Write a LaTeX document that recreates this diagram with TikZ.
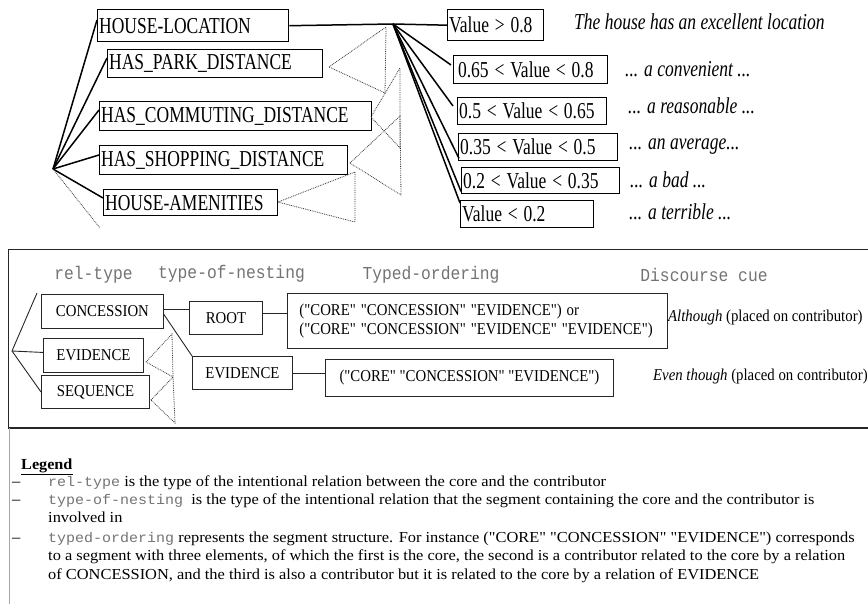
\documentclass[tikz,border=0pt]{standalone}
\usepackage{fontspec}
\setmainfont{Liberation Serif}[Ligatures=TeXOff]
\setmonofont{Liberation Mono}
\usepackage{graphicx}
\usetikzlibrary{calc}

% stretch a piece of text vertically
\newcommand\tall[2]{\scalebox{1}[#1]{#2}}
% grey typewriter names inside running text
\newcommand\code[1]{{\ttfamily\fontsize{15}{18}\selectfont\color{black!55}#1}}

\tikzset{
  bigtxt/.style={font=\fontsize{17.5}{19}\selectfont},
  midtxt/.style={font=\fontsize{14.8}{17}\selectfont},
  codetxt/.style={font=\ttfamily\fontsize{16.3}{18}\selectfont, text=black!55},
  legtxt/.style={font=\fontsize{16.4}{18}\selectfont},
  catbox/.style={draw, line width=1.4pt, anchor=north west, inner xsep=1.5pt,
                 inner ysep=0pt, align=left, bigtxt},
  relbox/.style={draw=black!85, line width=0.9pt, anchor=north west, inner sep=0pt,
                 align=center, midtxt},
  link/.style={line width=1.5pt},
  thin link/.style={line width=0.9pt, black!85},
  tri/.style={densely dotted, line width=0.8pt, black!80},
  cue/.style={anchor=west, inner sep=0pt},
  legline/.style={anchor=base west, inner sep=0pt, legtxt},
}

\begin{document}
\begin{tikzpicture}[x=1pt, y=-1pt]
\useasboundingbox (0,0) rectangle (868,604);
\clip (0,0) rectangle (868,604);

% ---------- house-location tree ----------
\node[catbox, text width=188pt, minimum height=32pt] (hl) at (97,9)  {\tall{1.3}{HOUSE-LOCATION}};
\node[catbox, text width=212pt, minimum height=28pt] (hp) at (107,49) {\tall{1.3}{HAS\_PARK\_DISTANCE}};
\node[catbox, text width=269pt, minimum height=29pt] (hc) at (99,101) {\tall{1.3}{HAS\_COMMUTING\_DISTANCE}};
\node[catbox, text width=245pt, minimum height=29pt] (hs) at (99,145) {\tall{1.3}{HAS\_SHOPPING\_DISTANCE}};
\node[catbox, text width=171pt, minimum height=26pt] (ha) at (103,189) {\tall{1.3}{HOUSE-AMENITIES}};

\node[catbox, text width=93pt,  minimum height=31pt] (v1) at (447,9)   {\tall{1.3}{Value > 0.8}};
\node[catbox, text width=151pt, minimum height=28pt] (v2) at (453,55)  {\tall{1.3}{\,0.65 < Value < 0.8}};
\node[catbox, text width=146pt, minimum height=27pt] (v3) at (457,97)  {\tall{1.3}{0.5 < Value < 0.65}};
\node[catbox, text width=156pt, minimum height=27pt] (v4) at (458,133) {\tall{1.3}{0.35 < Value < 0.5}};
\node[catbox, text width=155pt, minimum height=26pt] (v5) at (461,167) {\tall{1.3}{0.2 < Value < 0.35}};
\node[catbox, text width=130pt, minimum height=27pt] (v6) at (460,200) {\tall{1.3}{Value < 0.2}};

\node[cue, bigtxt] (c1) at (574,22)  {\tall{1.3}{\itshape The house has an excellent location}};
\node[cue, bigtxt] (c2) at (625,69)  {\tall{1.3}{\itshape ... a convenient ...}};
\node[cue, bigtxt] (c3) at (628,106) {\tall{1.3}{\itshape ... a reasonable ...}};
\node[cue, bigtxt] (c4) at (629,147) {\tall{1.3}{\itshape ... an average...}};
\node[cue, bigtxt] (c5) at (630,180) {\tall{1.3}{\itshape ... a bad ...}};
\node[cue, bigtxt] (c6) at (629,212) {\tall{1.3}{\itshape ... a terrible ...}};

\coordinate (r) at (53,169);
\coordinate (rend) at (100,228);
\coordinate (j) at (393,24);

\draw[link] (r) -- ($(hl.north west)+(0,11)$);
\draw[link] (r) -- ($(hp.north west)+(0,9)$);
\draw[link] (r) -- ($(hc.north west)+(0,9)$);
\draw[link] (r) -- ($(hs.north west)+(0,10)$);
\draw[link] (r) -- ($(ha.north west)+(0,9)$);
\draw[tri] (r) -- (rend);

\draw[link] (hl.east) -- (j) -- (v1.west);
\draw[link] (j) -- ($(v2.north west)+(-2,10)$);
\draw[link] (j) -- ($(v3.north west)+(-4,9)$);
\draw[link] (j) -- ($(v4.south west)+(1,-3)$);
\draw[link] (j) -- ($(v5.south west)+(0,-3)$);
\draw[link] (j) -- ($(v6.north west)+(0,3)$);

% dotted triangles of the collapsed sub-trees
\draw[tri] (329,67)  -- (386,27)  -- (385,93)  -- cycle;
\draw[tri] (371,117) -- (400,68)  -- (400,148) -- cycle;
\draw[tri] (350,163) -- (400,116) -- (401,195) -- cycle;
\draw[tri] (278,202) -- (355,172) -- (355,222) -- cycle;

% ---------- relation table ----------
\draw[line width=1pt, black!85] (870,250) -- (8,250) -- (8,428);
\draw[line width=2pt, black!85] (8,428) -- (870,428);
\draw[line width=0.8pt, black!35] (9,428) -- (9,606);

\node[codetxt] (h1) at (93.5,275) {\tall{1.12}{rel-type}};
\node[codetxt] (h2) at (231.5,274) {\tall{1.12}{type-of-nesting}};
\node[codetxt] (h3) at (431,275) {\tall{1.12}{Typed-ordering}};
\node[codetxt] (h4) at (704,275) {\tall{1.12}{Discourse cue}};

\node[relbox, minimum width=122pt, minimum height=34pt] (con)  at (41,294)  {\tall{1.12}{CONCESSION}};
\node[relbox, minimum width=100pt, minimum height=34pt] (ev1)  at (43,338)  {\tall{1.12}{EVIDENCE}};
\node[relbox, minimum width=108pt, minimum height=33pt] (seq)  at (41,375)  {\tall{1.12}{SEQUENCE}};
\node[relbox, minimum width=73pt,  minimum height=33pt] (root) at (189,301) {\tall{1.12}{ROOT}};
\node[relbox, minimum width=100pt, minimum height=33pt] (ev2)  at (192,356) {\tall{1.12}{EVIDENCE}};
\node[relbox, minimum width=288pt, minimum height=37pt] (ord2) at (325,359)
  {\tall{1.12}{("CORE" "CONCESSION" "EVIDENCE")}};
\node[relbox, align=left, text width=356pt, inner xsep=12pt, minimum height=55pt] (ord1) at (287,293)
  {\tall{1.12}{\begin{tabular}{@{}l@{}}("CORE" "CONCESSION" "EVIDENCE") or\\
   ("CORE" "CONCESSION" "EVIDENCE" "EVIDENCE")\end{tabular}}};

\node[cue, midtxt] (cu1) at (668,318) {\tall{1.12}{\textit{Although} (placed on contributor)}};
\node[cue, midtxt] (cu2) at (653,377) {\tall{1.12}{\textit{Even though} (placed on contributor)}};

\coordinate (m) at (12,351);
\coordinate (cr) at ($(con.east)+(0,-2)$);
\coordinate (rr) at ($(root.east)+(0,-4)$);
\draw[thin link] (m) -- ($(con.north west)+(-4,-1)$);
\draw[thin link] (m) -- ($(ev1.west)+(0,-3)$);
\draw[thin link] (m) -- (seq.west);
\draw[thin link] (cr) -- (root.west |- cr);
\draw[thin link] ($(con.east)+(0,3)$) -- (ev2.north west);
\draw[thin link] (rr) -- (ord1.west |- rr);
\draw[thin link] (ev2.east) -- (ord2.west |- ev2.east);

\draw[tri] (146,362) -- (172,334) -- (173,377) -- cycle;
\draw[tri] (151,400) -- (173,377) -- (175,423) -- cycle;

% ---------- legend ----------
\node[legline, font=\fontsize{16.2}{18}\selectfont\bfseries] (lg) at (21,469) {\tall{0.95}{\underline{Legend}}};
\node[legline] (d1) at (12,486) {–};
\node[legline] (d2) at (12,504) {–};
\node[legline] (d4) at (12,542) {–};
\node[legline] (l1) at (48,486) {\tall{0.93}{\code{rel-type} is the type of the intentional relation between the core and the contributor}};
\node[legline] (l2) at (48,504) {\tall{0.93}{\code{type-of-nesting}\ \ is the type of the intentional relation that the segment containing the core and the contributor is}};
\node[legline] (l3) at (48,522) {\tall{0.93}{involved in}};
\node[legline] (l4) at (48,542) {\tall{0.93}{\code{typed-ordering} represents the segment structure. For instance ("CORE" "CONCESSION" "EVIDENCE") corresponds}};
\node[legline] (l5) at (48,560) {\tall{0.93}{to a segment with three elements, of which the first is the core, the second is a contributor related to the core by a relation}};
\node[legline] (l6) at (48,579) {\tall{0.93}{of CONCESSION, and the third is also a contributor but it is related to the core by a relation of EVIDENCE}};
\end{tikzpicture}
\end{document}
